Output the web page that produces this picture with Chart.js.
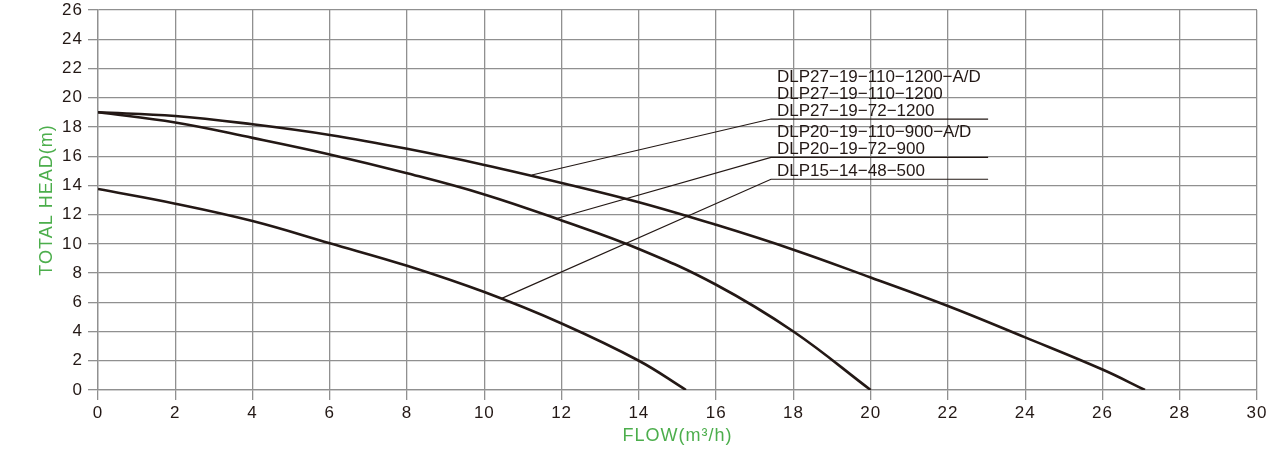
<!DOCTYPE html>
<html><head><meta charset="utf-8">
<script src="https://cdn.jsdelivr.net/npm/chart.js@4/dist/chart.umd.min.js"></script>
<style>html,body{margin:0;padding:0;background:#fff;overflow:hidden}</style>
</head><body>
<canvas id="c" width="1276" height="451"></canvas>
<script>
// ---- data (flow in m3/h, head in m) ----
const flowA = [0, 2, 4, 6, 8, 10, 12, 14, 16, 18, 20, 22, 24, 26, 27.1];
const headA = [19, 18.75, 18.18, 17.45, 16.5, 15.4, 14.17, 12.85, 11.3, 9.6, 7.7, 5.75, 3.6, 1.4, 0];
const flowB = [0, 2, 4, 6, 8, 10, 12, 14, 16, 18, 20];
const headB = [19, 18.3, 17.25, 16.12, 14.83, 13.38, 11.6, 9.65, 7.2, 4.0, 0];
const flowC = [0, 2, 4, 6, 8, 10, 12, 14, 15.22];
const headC = [13.75, 12.75, 11.56, 10.04, 8.5, 6.7, 4.55, 2.0, 0];

const xTicks = [0, 2, 4, 6, 8, 10, 12, 14, 16, 18, 20, 22, 24, 26, 28, 30];
const yTicks = [0, 2, 4, 6, 8, 10, 12, 14, 16, 18, 20, 22, 24, 26];

const modelsA = ["DLP27\u221219\u2212110\u22121200\u2212A/D", "DLP27\u221219\u2212110\u22121200", "DLP27\u221219\u221272\u22121200"];
const modelsB = ["DLP20\u221219\u2212110\u2212900\u2212A/D", "DLP20\u221219\u221272\u2212900"];
const modelsC = ["DLP15\u221214\u221248\u2212500"];

// leader line anchors (data units)
const anchorX = [11.23, 11.89, 10.45];
const anchorY = [14.71, 11.75, 6.27];
const elbowX = 17.42;
const shelfY = [18.54, 15.92, 14.42];
const shelfEndX = 23.04;

const INK = '#231815';
const GRID = '#909090';
const GREEN = '#4cae4c';

function pts(xs, ys) { return xs.map((x, i) => ({ x: x, y: ys[i] })); }

const spacingPlugin = {
  id: 'spacing',
  beforeDraw(chart) {
    const ctx = chart.ctx;
    ctx.save();
    ctx.fillStyle = '#fff';
    ctx.fillRect(0, 0, chart.width, chart.height);
    ctx.restore();
    ctx.letterSpacing = '1px';
  }
};

const leaderPlugin = {
  id: 'leaders',
  afterDatasetsDraw(chart) {
    const ctx = chart.ctx;
    const xs = chart.scales.x, ys = chart.scales.y;
    const groups = [modelsA, modelsB, modelsC];
    ctx.save();
    ctx.letterSpacing = '0px';
    ctx.strokeStyle = INK;
    ctx.lineWidth = 1.2;
    ctx.fillStyle = INK;
    ctx.font = '17px "Liberation Sans", Arial, sans-serif';
    ctx.textAlign = 'left';
    ctx.textBaseline = 'alphabetic';
    for (let i = 0; i < 3; i++) {
      const ax = xs.getPixelForValue(anchorX[i]), ay = ys.getPixelForValue(anchorY[i]);
      const ex = xs.getPixelForValue(elbowX), sy = ys.getPixelForValue(shelfY[i]);
      const rx = xs.getPixelForValue(shelfEndX);
      ctx.beginPath();
      ctx.moveTo(ax, ay);
      ctx.lineTo(ex, sy);
      ctx.lineTo(rx, sy);
      ctx.stroke();
      const g = groups[i];
      for (let j = 0; j < g.length; j++) {
        const by = sy - 3 - (g.length - 1 - j) * 17;
        ctx.fillText(g[j], ex + 6, by);
      }
    }
    ctx.restore();
  }
};

const lineStyle = { borderColor: INK, borderWidth: 2.6, pointRadius: 0, fill: false, tension: 0.4 };

new Chart(document.getElementById('c'), {
  type: 'line',
  data: {
    datasets: [
      Object.assign({ label: 'DLP27', data: pts(flowA, headA) }, lineStyle),
      Object.assign({ label: 'DLP20', data: pts(flowB, headB) }, lineStyle),
      Object.assign({ label: 'DLP15', data: pts(flowC, headC) }, lineStyle)
    ]
  },
  options: {
    responsive: false,
    animation: false,
    devicePixelRatio: 1,
    layout: { padding: { top: 0, right: 19, left: 0, bottom: 0 } },
    plugins: { legend: { display: false }, tooltip: { enabled: false } },
    scales: {
      x: {
        type: 'linear', min: 0, max: 30,
        afterBuildTicks(s) { s.ticks = xTicks.map(v => ({ value: v })); },
        afterFit(s) { s.height = 61; },
        grid: { color: GRID, lineWidth: 1.3, tickLength: 10, tickColor: GRID, drawTicks: true },
        border: { color: GRID, width: 1.3 },
        ticks: { color: INK, font: { size: 17, family: '"Liberation Sans", Arial, sans-serif' }, padding: 3, maxRotation: 0, autoSkip: false },
        title: { display: true, text: 'FLOW(m\u00b3/h)', color: GREEN, font: { size: 18, family: '"Liberation Sans", Arial, sans-serif' }, padding: { top: 0, bottom: 4 } }
      },
      y: {
        type: 'linear', min: 0, max: 26,
        afterBuildTicks(s) { s.ticks = yTicks.map(v => ({ value: v })); },
        afterFit(s) { s.width = 98; s.paddingTop = 10; },
        grid: { color: GRID, lineWidth: 1.3, tickLength: 10, tickColor: GRID, drawTicks: true },
        border: { color: GRID, width: 1.3 },
        ticks: { color: INK, font: { size: 17, family: '"Liberation Sans", Arial, sans-serif' }, padding: 5, autoSkip: false },
        title: { display: true, text: 'TOTAL HEAD(m)', color: GREEN, font: { size: 18, family: '"Liberation Sans", Arial, sans-serif' }, padding: { top: 36, bottom: 0 } }
      }
    }
  },
  plugins: [spacingPlugin, leaderPlugin]
});
</script>
</body></html>
